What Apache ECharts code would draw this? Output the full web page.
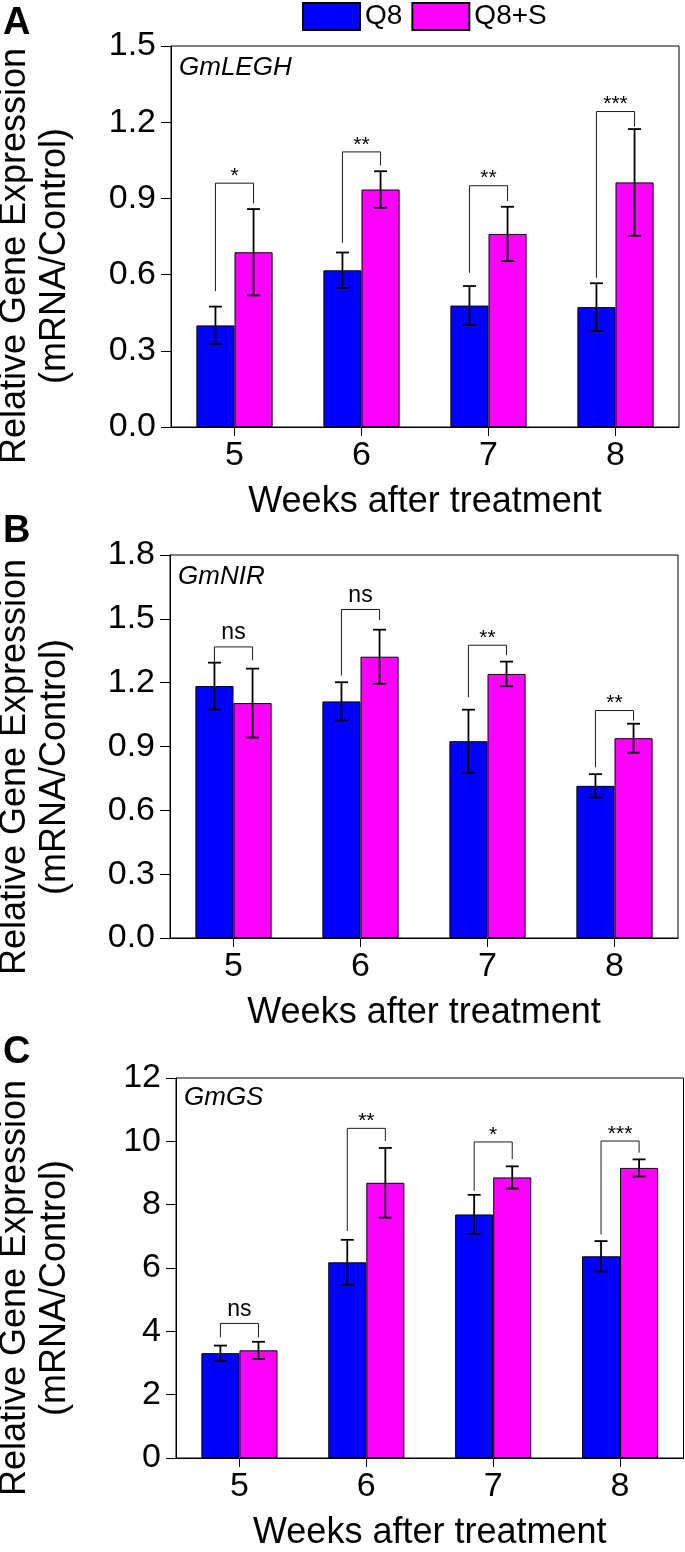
<!DOCTYPE html>
<html>
<head>
<meta charset="utf-8">
<script src="https://cdn.jsdelivr.net/npm/echarts@6/dist/echarts.min.js"></script>
<style>
html,body{margin:0;padding:0;background:#fff;}
#chart{width:685px;height:1552px;}
</style>
</head>
<body>
<div id="chart"></div>
<script>
const categories = ['5', '6', '7', '8'];
const seriesNames = ['Q8', 'Q8+S'];

// Panel A: GmLEGH
const aQ8 = [0.40, 0.617, 0.478, 0.472];
const aQ8Err = [0.074, 0.07, 0.077, 0.094];
const aQ8S = [0.688, 0.935, 0.76, 0.963];
const aQ8SErr = [0.17, 0.072, 0.107, 0.21];
const aBrackets = [[0.535, 0.88, 0.96], [0.725, 1.03, 1.083], [0.607, 0.889, 0.95], [0.587, 1.183, 1.242]];
const aSig = ['*', '**', '**', '***'];
const aTicks = ['0.0', '0.3', '0.6', '0.9', '1.2', '1.5'];

// Panel B: GmNIR
const bQ8 = [1.184, 1.112, 0.925, 0.715];
const bQ8Err = [0.11, 0.09, 0.148, 0.055];
const bQ8S = [1.104, 1.322, 1.241, 0.939];
const bQ8SErr = [0.162, 0.127, 0.058, 0.068];
const bBrackets = [[1.297, 1.305, 1.368], [1.234, 1.494, 1.544], [1.132, 1.329, 1.376], [0.802, 1.022, 1.069]];
const bSig = ['ns', 'ns', '**', '**'];
const bTicks = ['0.0', '0.3', '0.6', '0.9', '1.2', '1.5', '1.8'];

// Panel C: GmGS
const cQ8 = [3.31, 6.18, 7.69, 6.37];
const cQ8Err = [0.24, 0.71, 0.62, 0.48];
const cQ8S = [3.40, 8.69, 8.86, 9.16];
const cQ8SErr = [0.27, 1.10, 0.35, 0.27];
const cBrackets = [[3.81, 3.81, 4.25], [7.17, 10.01, 10.41], [8.44, 9.44, 9.98], [7.06, 9.64, 10.01]];
const cSig = ['ns', '**', '*', '***'];
const cTicks = ['0', '2', '4', '6', '8', '10', '12'];

const geneNames = ['GmLEGH', 'GmNIR', 'GmGS'];
const panelLetters = ['A', 'B', 'C'];
const xName = 'Weeks after treatment';
const yName = 'Relative Gene Expression\n(mRNA/Control)';

const FONT = "'Liberation Sans', Arial, sans-serif";
const BLUE = '#0000ff';
const MAGENTA = '#ff00ff';

const panels = [
  { q8: aQ8, q8e: aQ8Err, q8s: aQ8S, q8se: aQ8SErr, br: aBrackets, sig: aSig, ticks: aTicks,
    grid: { left: 171, width: 508, top: 46, height: 381 } },
  { q8: bQ8, q8e: bQ8Err, q8s: bQ8S, q8se: bQ8SErr, br: bBrackets, sig: bSig, ticks: bTicks,
    grid: { left: 170, width: 508, top: 555, height: 383 } },
  { q8: cQ8, q8e: cQ8Err, q8s: cQ8S, q8se: cQ8SErr, br: cBrackets, sig: cSig, ticks: cTicks,
    grid: { left: 176, width: 507.5, top: 1078, height: 381 } }
];

const grids = [], xAxes = [], yAxes = [], series = [];

panels.forEach((p, i) => {
  grids.push(Object.assign({ show: true, borderColor: '#000', borderWidth: 1, backgroundColor: 'transparent' }, p.grid));
  xAxes.push({
    gridIndex: i, type: 'category', data: categories, boundaryGap: true,
    name: xName, nameLocation: 'middle', nameGap: 57,
    nameTextStyle: { fontFamily: FONT, fontSize: 36, color: '#000' },
    axisLine: { lineStyle: { color: '#000', width: 1 } },
    axisTick: { show: true, alignWithLabel: true, length: 9, lineStyle: { color: '#000', width: 1 } },
    axisLabel: { fontFamily: FONT, fontSize: 34, color: '#000', margin: 12 }
  });
  const nT = p.ticks.length;
  const maxV = parseFloat(p.ticks[nT - 1]);
  const step = parseFloat(p.ticks[1]) - parseFloat(p.ticks[0]);
  yAxes.push({
    gridIndex: i, type: 'value', min: 0, max: maxV, interval: step,
    axisLine: { show: true, lineStyle: { color: '#000', width: 1 } },
    axisTick: { show: true, length: 10, lineStyle: { color: '#000', width: 1 } },
    splitLine: { show: false },
    axisLabel: {
      fontFamily: FONT, fontSize: 34, color: '#000', margin: 15,
      formatter: function (v) { const idx = Math.round(v / step); return p.ticks[idx] !== undefined ? p.ticks[idx] : ''; }
    }
  });

  series.push({
    name: seriesNames[0], type: 'bar', xAxisIndex: i, yAxisIndex: i, data: p.q8,
    barWidth: '30%', barGap: '0%',
    itemStyle: { color: BLUE, borderColor: '#000', borderWidth: 1 }, z: 2
  });
  series.push({
    name: seriesNames[1], type: 'bar', xAxisIndex: i, yAxisIndex: i, data: p.q8s,
    barWidth: '30%', barGap: '0%',
    itemStyle: { color: MAGENTA, borderColor: '#000', borderWidth: 1 }, z: 2
  });

  // error bars
  const errData = [];
  p.q8.forEach((v, k) => errData.push([k, v - p.q8e[k], v + p.q8e[k], -1]));
  p.q8s.forEach((v, k) => errData.push([k, v - p.q8se[k], v + p.q8se[k], 1]));
  series.push({
    type: 'custom', xAxisIndex: i, yAxisIndex: i, data: errData, z: 5, silent: true,
    renderItem: function (params, api) {
      const band = api.size([1, 0])[0];
      const c = api.coord([api.value(0), api.value(1)]);
      const x = c[0] + api.value(3) * band * 0.15;
      const yLo = c[1];
      const yHi = api.coord([api.value(0), api.value(2)])[1];
      const cap = 6.5;
      const st = { stroke: '#000', lineWidth: 1.8 };
      return { type: 'group', children: [
        { type: 'line', shape: { x1: x, y1: yLo, x2: x, y2: yHi }, style: st },
        { type: 'line', shape: { x1: x - cap, y1: yHi, x2: x + cap, y2: yHi }, style: st },
        { type: 'line', shape: { x1: x - cap, y1: yLo, x2: x + cap, y2: yLo }, style: st }
      ] };
    }
  });

  // significance brackets
  const brData = p.br.map((b, k) => [k, b[0], b[1], b[2]]);
  const sig = p.sig;
  series.push({
    type: 'custom', xAxisIndex: i, yAxisIndex: i, data: brData, z: 6, silent: true,
    renderItem: function (params, api) {
      const band = api.size([1, 0])[0];
      const k = api.value(0);
      const cx = api.coord([k, 0])[0];
      const xL = cx - band * 0.15, xR = cx + band * 0.15;
      const yL = api.coord([k, api.value(1)])[1];
      const yR = api.coord([k, api.value(2)])[1];
      const yT = api.coord([k, api.value(3)])[1];
      const label = sig[params.dataIndex];
      const isNs = label === 'ns';
      return { type: 'group', children: [
        { type: 'polyline', shape: { points: [[xL, yL], [xL, yT], [xR, yT], [xR, yR]] },
          style: { stroke: '#1a1a1a', lineWidth: 1, fill: null } },
        { type: 'text', style: {
            text: label, x: (xL + xR) / 2, y: isNs ? yT - 14 : yT - 7,
            align: 'center', verticalAlign: 'middle',
            font: (isNs ? '23px ' : '21px ') + FONT, fill: '#000' } }
      ] };
    }
  });
});

const graphics = [];
const letterTops = [5, 513, 1034];
const geneTops = [55, 564, 1085];
panels.forEach((p, i) => {
  graphics.push({ type: 'text', left: 3, top: letterTops[i],
    style: { text: panelLetters[i], font: 'bold 38px ' + FONT, fill: '#000' } });
  graphics.push({ type: 'text', left: p.grid.left + 8, top: geneTops[i],
    style: { text: geneNames[i], font: 'italic 26px ' + FONT, fill: '#000' } });
  graphics.push({ type: 'text', x: 35, y: p.grid.top + p.grid.height - 171, rotation: Math.PI / 2,
    style: { text: yName, font: '36px ' + FONT, fill: '#000', align: 'center', verticalAlign: 'middle', lineHeight: 40 } });
});

const chart = echarts.init(document.getElementById('chart'), null, { renderer: 'canvas' });
chart.setOption({
  animation: false,
  backgroundColor: '#fff',
  legend: {
    data: seriesNames, top: 2, left: 302, padding: 0,
    itemWidth: 57, itemHeight: 27, itemGap: 9, icon: 'rect',
    textStyle: { fontFamily: FONT, fontSize: 28, color: '#000' }
  },
  grid: grids, xAxis: xAxes, yAxis: yAxes, series: series, graphic: graphics
});
</script>
</body>
</html>
